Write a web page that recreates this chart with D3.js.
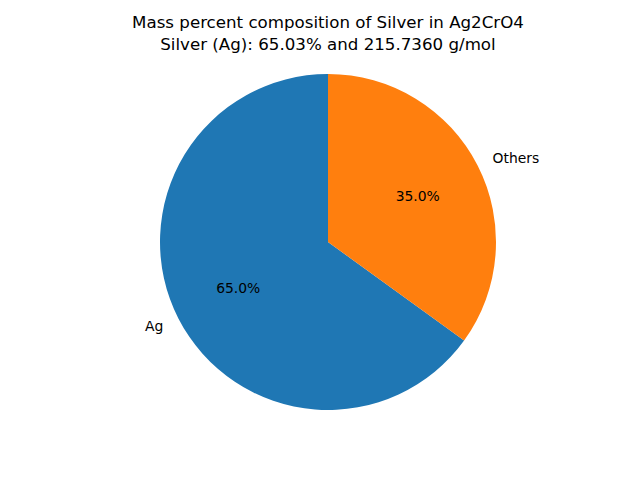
<!DOCTYPE html>
<html><head><meta charset="utf-8">
<script src="https://cdn.jsdelivr.net/npm/d3@7"></script>
<style>body{margin:0;background:#fff}svg{display:block}text{font-family:"DejaVu Sans",sans-serif}</style>
</head><body>
<script>
const labels = ["Ag", "Others"];
const values = [65.03, 34.97];
const colors = ["#1f77b4", "#ff7f0e"];
const titleLines = ["Mass percent composition of Silver in Ag2CrO4", "Silver (Ag): 65.03% and 215.7360 g/mol"];

const W = 640, H = 480, cx = 328, cy = 242, R = 168;
const svg = d3.select("body").append("svg").attr("width", W).attr("height", H);
svg.append("rect").attr("width", W).attr("height", H).attr("fill", "#fff");

const total = d3.sum(values);
// matplotlib: startangle 90, counterclockwise. D3 angles clockwise from top.
const pie = d3.pie().sort(null).value(d => d)
  .startAngle(2 * Math.PI).endAngle(0);
const arcs = pie(values);
const arc = d3.arc().innerRadius(0).outerRadius(R);
const g = svg.append("g").attr("transform", `translate(${cx},${cy})`);
g.selectAll("path").data(arcs).enter().append("path")
  .attr("d", arc).attr("fill", (d, i) => colors[i]);

arcs.forEach((d, i) => {
  const mid = (d.startAngle + d.endAngle) / 2;
  const sx = Math.sin(mid), sy = -Math.cos(mid);
  g.append("text")
    .attr("x", 1.1 * R * sx).attr("y", 1.1 * R * sy)
    .attr("text-anchor", sx > 0 ? "start" : "end")
    .attr("dominant-baseline", "central")
    .attr("font-size", "13.9px").attr("fill", "#000")
    .text(labels[i]);
  g.append("text")
    .attr("x", 0.6 * R * sx).attr("y", 0.6 * R * sy)
    .attr("text-anchor", "middle")
    .attr("dominant-baseline", "central")
    .attr("font-size", "13.9px").attr("fill", "#000")
    .text((values[i] / total * 100).toFixed(1) + "%");
});

svg.selectAll("text.title").data(titleLines).enter().append("text")
  .attr("class", "title")
  .attr("x", 328).attr("y", (d, i) => 28 + i * 21.5)
  .attr("text-anchor", "middle").attr("font-size", "16.67px").attr("fill", "#000")
  .text(d => d);
</script>
</body></html>
